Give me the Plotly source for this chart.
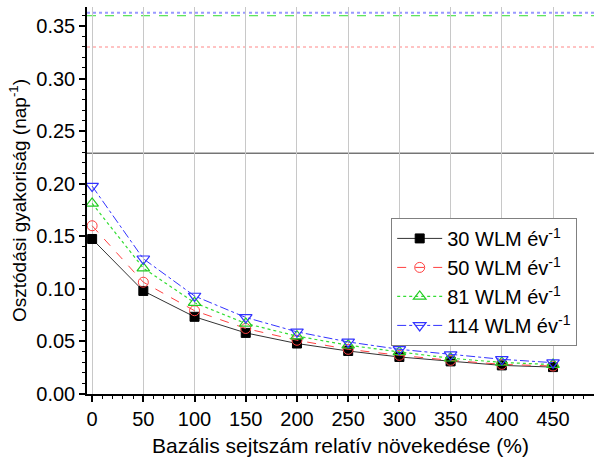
import plotly.graph_objects as go

# Relative growth of basal cell number (%)
growth = [0, 50, 100, 150, 200, 250, 300, 350, 400, 450]

# Division frequency (day^-1) for each exposure rate
freq_30 = [0.1474, 0.0980, 0.0734, 0.0581, 0.0480, 0.0409, 0.0352, 0.0310, 0.0272, 0.0256]
freq_50 = [0.1600, 0.1063, 0.0792, 0.0623, 0.0511, 0.0425, 0.0368, 0.0320, 0.0282, 0.0266]
freq_81 = [0.1812, 0.1197, 0.0868, 0.0671, 0.0550, 0.0464, 0.0400, 0.0340, 0.0300, 0.0280]
freq_114 = [0.1977, 0.1286, 0.0932, 0.0728, 0.0591, 0.0495, 0.0425, 0.0375, 0.0330, 0.0298]

series_names = ["30 WLM év<sup>-1</sup>", "50 WLM év<sup>-1</sup>",
                "81 WLM év<sup>-1</sup>", "114 WLM év<sup>-1</sup>"]

# Reference levels (day^-1)
level_values = [0.229, 0.330, 0.3597, 0.3625]

FONT = "Liberation Sans, Arial, sans-serif"

fig = go.Figure()

styles = [
    dict(line=dict(color="#333333", width=1, dash="solid"),
         marker=dict(symbol="square", size=9, color="#000000",
                     line=dict(color="#000000", width=1))),
    dict(line=dict(color="#ff4040", width=1, dash="dash"),
         marker=dict(symbol="circle-open", size=10, color="#ff4040",
                     line=dict(color="#ff4040", width=1))),
    dict(line=dict(color="#33dd33", width=1.2, dash="dot"),
         marker=dict(symbol="triangle-up-open", size=11, color="#22cc22",
                     line=dict(color="#22cc22", width=1.2))),
    dict(line=dict(color="#3333ff", width=1, dash="dashdot"),
         marker=dict(symbol="triangle-down-open", size=11, color="#3333ff",
                     line=dict(color="#3333ff", width=1.2))),
]

for name, ys, st in zip(series_names, [freq_30, freq_50, freq_81, freq_114], styles):
    fig.add_trace(go.Scatter(x=growth, y=ys, mode="lines+markers", name=name,
                             line=st["line"], marker=st["marker"]))

# Horizontal reference levels
level_styles = [
    dict(color="#333333", width=1, dash="solid"),
    dict(color="#ffb0b0", width=1.5, dash="dot"),
    dict(color="#33dd33", width=1, dash="dash"),
    dict(color="#9999ff", width=2, dash="dot"),
]
for val, ls in zip(level_values, level_styles):
    fig.add_hline(y=val, line=ls, layer="below")

fig.update_layout(
    width=594, height=461,
    margin=dict(l=87, r=0, t=7, b=67),
    paper_bgcolor="white", plot_bgcolor="white",
    font=dict(family=FONT, size=20, color="#000000"),
    showlegend=True,
    legend=dict(x=0.6, y=0.455, xanchor="left", yanchor="top",
                bordercolor="#808080", borderwidth=1, bgcolor="white",
                font=dict(size=20), itemwidth=45, tracegroupgap=0),
    xaxis=dict(
        range=[-5, 490], tickmode="array", tickvals=growth,
        ticktext=[str(v) for v in growth],
        showgrid=True, gridcolor="#c8c8c8", gridwidth=1,
        showline=True, linecolor="#000000", linewidth=1.5,
        ticks="outside", ticklen=6, tickwidth=1.5, tickcolor="#000000",
        tickfont=dict(size=20),
        minor=dict(dtick=10, ticks="outside", ticklen=3, tickwidth=1,
                   tickcolor="#000000", showgrid=False),
        zeroline=False,
        title=dict(text="Bazális sejtszám relatív növekedése (%)",
                   font=dict(size=21), standoff=10),
    ),
    yaxis=dict(
        range=[0, 0.368], dtick=0.05, tick0=0, tickformat=".2f",
        showgrid=False,
        showline=True, linecolor="#000000", linewidth=1.5,
        ticks="outside", ticklen=6, tickwidth=1.5, tickcolor="#000000",
        tickfont=dict(size=20),
        minor=dict(dtick=0.01, ticks="outside", ticklen=3, tickwidth=1,
                   tickcolor="#000000", showgrid=False),
        zeroline=False,
        title=dict(text="Osztódási gyakoriság (nap<sup>-1</sup>)",
                   font=dict(size=19), standoff=5),
    ),
)

fig.write_html("out.html")
